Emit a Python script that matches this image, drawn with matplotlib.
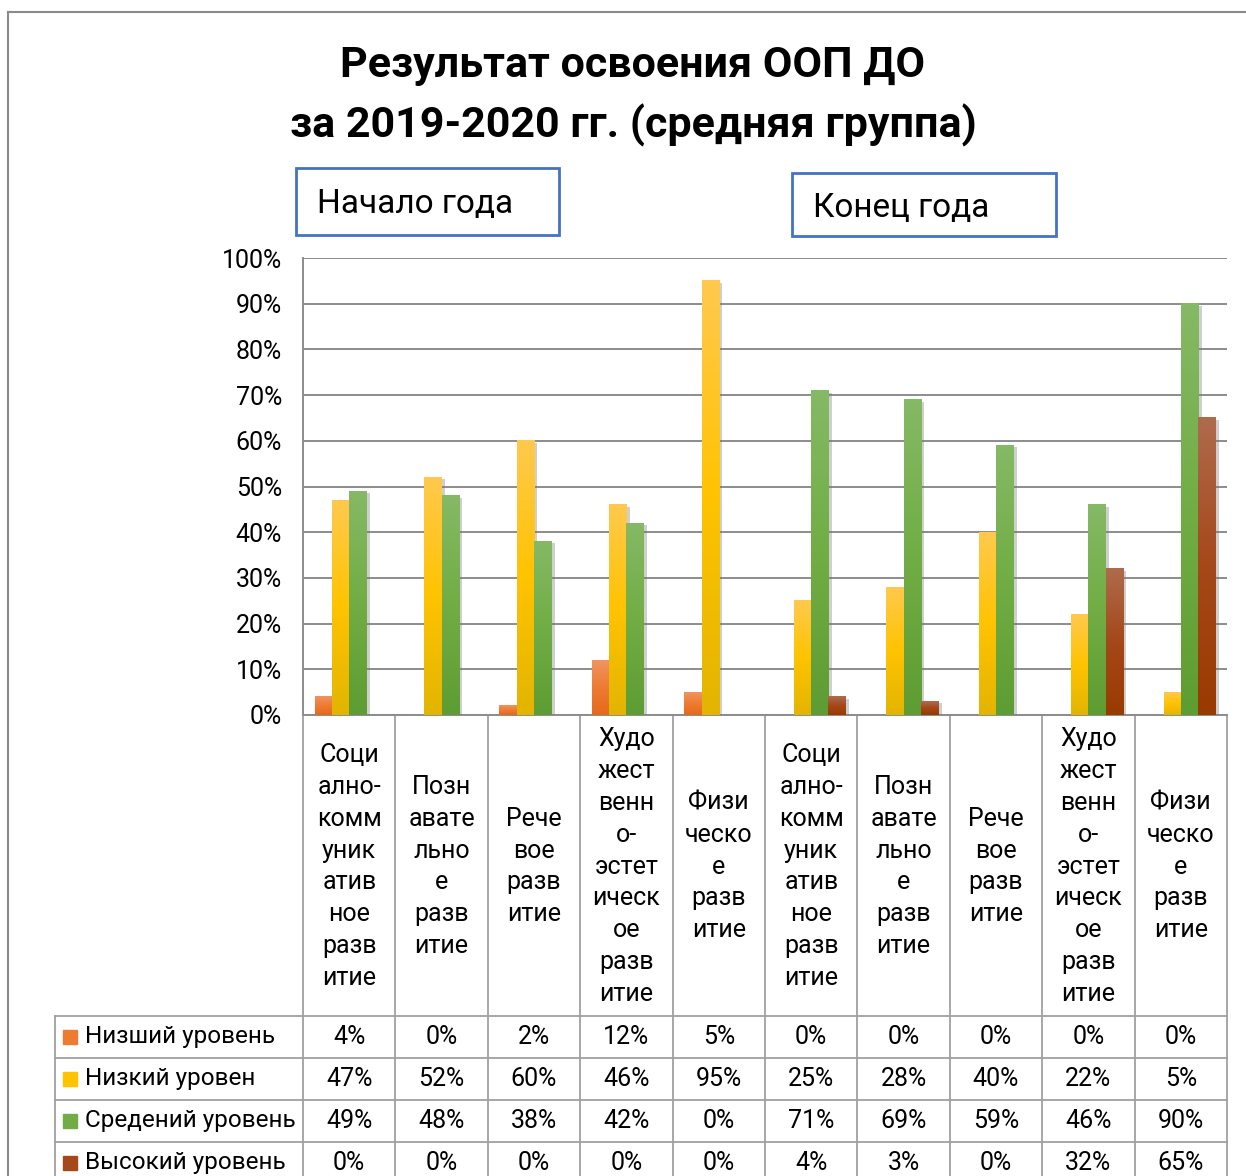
import matplotlib

matplotlib.use("Agg")
import matplotlib.pyplot as plt
import matplotlib.patheffects as pe
import numpy as np
from matplotlib.colors import LinearSegmentedColormap
from matplotlib.patches import Rectangle

plt.rcParams["font.family"] = ["Roboto", "DejaVu Sans"]

TITLE = "Результат освоения ООП ДО\nза 2019-2020 гг. (средняя группа)"
PERIODS = ["Начало года", "Конец года"]

CATEGORIES = [
    "Соци\nално-\nкомм\nуник\nатив\nное\nразв\nитие",
    "Позн\nавате\nльно\nе\nразв\nитие",
    "Рече\nвое\nразв\nитие",
    "Худо\nжест\nвенн\nо-\nэстет\nическ\nое\nразв\nитие",
    "Физи\nческо\nе\nразв\nитие",
] * 2

SERIES = ["Низший уровень", "Низкий уровен", "Средений уровень", "Высокий уровень"]
lowest = [4, 0, 2, 12, 5, 0, 0, 0, 0, 0]
low = [47, 52, 60, 46, 95, 25, 28, 40, 22, 5]
middle = [49, 48, 38, 42, 0, 71, 69, 59, 46, 90]
high = [0, 0, 0, 0, 0, 4, 3, 0, 32, 65]
VALUES = [lowest, low, middle, high]

# gradient colours, top -> mid -> bottom
GRADIENTS = [
    ["#F19460", "#EE7B32", "#E5691B"],
    ["#FFC94D", "#FFC300", "#E3B500"],
    ["#85B965", "#71AD44", "#5E9D33"],
    ["#AE6B4C", "#A5481A", "#993B00"],
]

W, H = 1246, 1176
FS = 17.5
fig = plt.figure(figsize=(W / 100, H / 100), dpi=100)

# overlay in pixel coords for title, boxes and the data table
lay = fig.add_axes([0, 0, 1, 1])
lay.set_xlim(0, W)
lay.set_ylim(H, 0)
lay.axis("off")

PL, PR, PT, PB = 303, 1227, 258, 715
ax = fig.add_axes([PL / W, 1 - PB / H, (PR - PL) / W, (PB - PT) / H])
ax.patch.set_alpha(0)

n = len(CATEGORIES)
x = np.arange(n)
bw = 0.187
grad = np.linspace(0, 1, 64).reshape(-1, 1)

for k, (vals, cols) in enumerate(zip(VALUES, GRADIENTS)):
    cmap = LinearSegmentedColormap.from_list(f"g{k}", cols[::-1])
    bars = ax.bar(x + (k - 1.5) * bw, np.array(vals) / 100, width=bw,
                  color=cols[1], zorder=3,
                  path_effects=[pe.SimplePatchShadow(offset=(2.5, -1.5), shadow_rgbFace="#777777", alpha=0.35),
                                pe.Normal()])
    for b in bars:
        h = b.get_height()
        if h <= 0:
            continue
        x0 = b.get_x()
        ax.imshow(grad, extent=(x0, x0 + b.get_width(), 0, h), origin="lower",
                  cmap=cmap, aspect="auto", zorder=4, interpolation="bilinear")

ax.set_xlim(-0.5, n - 0.5)
ax.set_ylim(0, 1)
ax.set_yticks(np.arange(0, 1.01, 0.1))
ax.set_yticklabels([f"{v}%" for v in range(0, 101, 10)], fontsize=FS + 0.5)
ax.tick_params(axis="y", length=0, pad=15)
ax.set_xticks([])
ax.yaxis.grid(True, color="#8C8C8C", linewidth=1.4, zorder=0)
ax.set_axisbelow(True)
for s in ["top", "right"]:
    ax.spines[s].set_visible(False)
for s in ["left", "bottom"]:
    ax.spines[s].set_color("#8C8C8C")
    ax.spines[s].set_linewidth(1.4)

# outer chart frame
lay.plot([8, W], [12, 12], color="#8A8A8A", lw=1.5)
lay.plot([8, 8], [12, H], color="#8A8A8A", lw=1.5)

# title
lay.text(633, 96, TITLE, ha="center", va="center", fontsize=31, fontweight="bold",
         linespacing=1.5)

# period boxes
for (bx0, by0, bx1, by1), label in zip([(296, 168, 559, 235), (792, 173, 1056, 236)], PERIODS):
    lay.add_patch(Rectangle((bx0, by0), bx1 - bx0, by1 - by0, fill=False,
                            edgecolor="#4472C4", lw=2))
    lay.text(bx0 + 21, (by0 + by1) / 2 + 3, label, ha="left", va="center", fontsize=24)

# data table
cw = (PR - PL) / n
row_top = 1016
row_h = 42
tcol = "#A0A0A0"
for i in range(n + 1):
    xl = PL + i * cw
    lay.plot([xl, xl], [PB, H], color=tcol, lw=1.3)
lay.plot([55, 55], [row_top, H], color=tcol, lw=1.3)
for r in range(len(SERIES)):
    yl = row_top + r * row_h
    lay.plot([55, PR], [yl, yl], color=tcol, lw=1.3)

for i, cat in enumerate(CATEGORIES):
    cx = PL + (i + 0.5) * cw
    lay.text(cx, (PB + row_top) / 2 + 1, cat, ha="center", va="center",
             fontsize=FS + 0.5, linespacing=1.42)

for r, (name, vals, cols) in enumerate(zip(SERIES, VALUES, GRADIENTS)):
    cy = row_top + (r + 0.5) * row_h
    lay.add_patch(Rectangle((63, cy - 7), 14, 14, color=cols[1]))
    lay.text(85, cy, name, ha="left", va="center", fontsize=FS)
    for i, v in enumerate(vals):
        lay.text(PL + (i + 0.5) * cw, cy, f"{v}%", ha="center", va="center", fontsize=FS + 0.5)

fig.savefig("out.png", dpi=100)
